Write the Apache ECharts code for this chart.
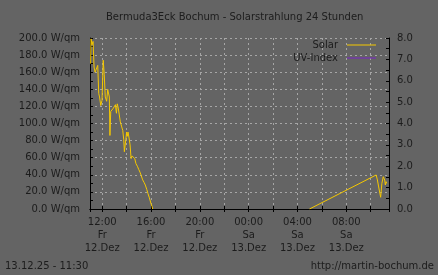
<!DOCTYPE html>
<html>
<head>
<meta charset="utf-8">
<script src="https://cdn.jsdelivr.net/npm/echarts@6/dist/echarts.min.js"></script>
<style>
html,body{margin:0;padding:0;background:#646464;}
#c{width:438px;height:275px;}
</style>
</head>
<body>
<div id="c"></div>
<script>
// ---- data ----
const chartTitle = 'Bermuda3Eck Bochum - Solarstrahlung 24 Stunden';
const footerLeft = '13.12.25 - 11:30';
const footerRight = 'http://martin-bochum.de';
const xStart = '2025-12-12 11:00';
const xEnd = '2025-12-13 11:30';
const dayNames = ['So', 'Mo', 'Di', 'Mi', 'Do', 'Fr', 'Sa'];
const monthNames = ['Jan', 'Feb', 'Mär', 'Apr', 'Mai', 'Jun', 'Jul', 'Aug', 'Sep', 'Okt', 'Nov', 'Dez'];

const solarTimes = [
  '2025-12-12 11:03', '2025-12-12 11:05', '2025-12-12 11:10', '2025-12-12 11:15', '2025-12-12 11:20',
  '2025-12-12 11:25', '2025-12-12 11:32', '2025-12-12 11:38', '2025-12-12 11:43', '2025-12-12 11:47',
  '2025-12-12 11:53', '2025-12-12 11:59', '2025-12-12 12:05', '2025-12-12 12:10', '2025-12-12 12:15',
  '2025-12-12 12:22', '2025-12-12 12:27', '2025-12-12 12:32', '2025-12-12 12:35', '2025-12-12 12:38',
  '2025-12-12 12:42', '2025-12-12 12:48', '2025-12-12 12:55', '2025-12-12 13:00', '2025-12-12 13:05',
  '2025-12-12 13:10', '2025-12-12 13:14', '2025-12-12 13:19', '2025-12-12 13:24', '2025-12-12 13:29',
  '2025-12-12 13:36', '2025-12-12 13:41', '2025-12-12 13:46', '2025-12-12 13:49', '2025-12-12 13:52',
  '2025-12-12 13:56', '2025-12-12 14:00', '2025-12-12 14:03', '2025-12-12 14:07', '2025-12-12 14:12',
  '2025-12-12 14:17', '2025-12-12 14:22', '2025-12-12 14:27', '2025-12-12 14:33', '2025-12-12 14:40',
  '2025-12-12 14:46', '2025-12-12 14:53', '2025-12-12 15:00', '2025-12-12 15:06', '2025-12-12 15:12',
  '2025-12-12 15:19', '2025-12-12 15:26', '2025-12-12 15:32', '2025-12-12 15:39', '2025-12-12 15:45',
  '2025-12-12 15:52', '2025-12-12 15:59', '2025-12-12 16:05', '2025-12-12 16:08', '2025-12-12 16:10',
  '2025-12-13 04:59', '2025-12-13 10:27', '2025-12-13 10:33', '2025-12-13 10:42', '2025-12-13 10:49',
  '2025-12-13 10:55', '2025-12-13 11:02', '2025-12-13 11:09', '2025-12-13 11:12', '2025-12-13 11:16',
  '2025-12-13 11:19'
];
const solarValues = [
  170, 199, 192, 196, 166,
  160, 158, 168, 135, 131,
  121, 127, 174, 157, 131,
  126, 140, 139, 131, 86,
  114, 113, 118, 116, 122,
  112, 123, 118, 110, 102,
  96, 92, 81, 67, 65,
  81, 90, 85, 90, 83,
  75, 59, 62, 62, 59,
  53, 50, 46, 43, 39,
  34, 31, 28, 23, 18,
  13, 7, 3, 0, null,
  0, 39.8, 33.9, 22.2, 13.7,
  30, 37.8, 33.9, 28, 31.9,
  30
];
const uvTimes = [];
const uvValues = [];

const leftTicks = { min: 0, max: 200, step: 20 };
const rightTicks = { min: 0, max: 8, step: 1 };

// ---- helpers: times -> hours since 2025-12-12 00:00 (UTC-based, timezone independent) ----
const REF = Date.UTC(2025, 11, 12, 0, 0);
const HOUR = 3600 * 1000;
function toHours(s) {
  const m = s.match(/(\d+)-(\d+)-(\d+) (\d+):(\d+)/);
  return (Date.UTC(+m[1], +m[2] - 1, +m[3], +m[4], +m[5]) - REF) / HOUR;
}
function hoursToLabel(h) {
  const d = new Date(REF + h * HOUR);
  const hh = String(d.getUTCHours()).padStart(2, '0');
  const mm = String(d.getUTCMinutes()).padStart(2, '0');
  return hh + ':' + mm + '\n' + dayNames[d.getUTCDay()] + '\n' + d.getUTCDate() + '.' + monthNames[d.getUTCMonth()];
}

// ---- chart ----
const FONT = 'DejaVu Sans';
const TXT = '#1c1c1c';
const GRID = '#a6a6a6';
const solarData = solarTimes.map((t, i) => [toHours(t), solarValues[i]]);
const uvData = uvTimes.map((t, i) => [toHours(t), uvValues[i]]);

const chart = echarts.init(document.getElementById('c'), null, { renderer: 'canvas' });
const xBase = {
  type: 'value',
  min: toHours(xStart),
  max: toHours(xEnd),
  splitNumber: 12
};
chart.setOption({
  backgroundColor: '#646464',
  animation: false,
  textStyle: { fontFamily: FONT },
  title: [
    { text: chartTitle, left: 106, top: 12, padding: 0,
      textStyle: { fontFamily: FONT, fontSize: 10, fontWeight: 'normal', color: TXT } },
    { text: footerLeft, left: 5, top: 261, padding: 0,
      textStyle: { fontFamily: FONT, fontSize: 10, fontWeight: 'normal', color: TXT } },
    { text: footerRight, right: 4, top: 261, padding: 0,
      textStyle: { fontFamily: FONT, fontSize: 10, fontWeight: 'normal', color: TXT } }
  ],
  legend: [
    { data: ['Solar'], right: 62, top: 40, padding: 0, align: 'right', orient: 'vertical',
      itemWidth: 29, itemHeight: 1, icon: 'rect',
      textStyle: { fontFamily: FONT, fontSize: 10, color: TXT, padding: [0, 4, 0, 0] } },
    { data: ['UV-Index'], right: 62, top: 53, padding: 0, align: 'right', orient: 'vertical',
      itemWidth: 29, itemHeight: 1, icon: 'rect',
      textStyle: { fontFamily: FONT, fontSize: 10, color: TXT, padding: [0, 4, 0, 0] } }
  ],
  grid: { left: 90, right: 49, top: 38, bottom: 66, containLabel: false },
  xAxis: [
    Object.assign({}, xBase, {
      position: 'bottom',
      axisLine: { show: true, lineStyle: { color: '#000', width: 1 } },
      axisTick: { show: true, inside: true, length: 3, lineStyle: { color: '#000' } },
      splitLine: { show: true, lineStyle: { color: GRID, type: [2, 3], width: 1 } },
      axisLabel: {
        show: true, margin: 7, color: TXT, fontFamily: FONT, fontSize: 10, lineHeight: 13,
        hideOverlap: false, showMinLabel: true, showMaxLabel: true,
        formatter: function (v) {
          if (Math.abs(v - Math.round(v)) > 1e-6 || Math.round(v) % 4 !== 0) return '';
          return hoursToLabel(v);
        }
      }
    }),
    Object.assign({}, xBase, {
      position: 'top',
      axisLine: { show: true, lineStyle: { color: '#000', width: 1 } },
      axisTick: { show: true, inside: true, length: 3, lineStyle: { color: '#000' } },
      splitLine: { show: false },
      axisLabel: { show: false }
    })
  ],
  yAxis: [
    {
      type: 'value', position: 'left',
      min: leftTicks.min, max: leftTicks.max, interval: leftTicks.step,
      axisLine: { show: true, lineStyle: { color: '#000', width: 1 } },
      axisTick: { show: true, inside: true, length: 3, lineStyle: { color: '#000' } },
      minorTick: { show: true, splitNumber: 2, length: 3, lineStyle: { color: '#000' } },
      splitLine: { show: true, lineStyle: { color: GRID, type: [2, 3], width: 1 } },
      axisLabel: { margin: 10, color: TXT, fontFamily: FONT, fontSize: 10,
        formatter: v => v.toFixed(1) + ' W/qm' }
    },
    {
      type: 'value', position: 'right',
      min: rightTicks.min, max: rightTicks.max, interval: rightTicks.step,
      axisLine: { show: true, lineStyle: { color: '#000', width: 1 } },
      axisTick: { show: true, inside: true, length: 3, lineStyle: { color: '#000' } },
      minorTick: { show: true, splitNumber: 2, length: 3, lineStyle: { color: '#000' } },
      splitLine: { show: false },
      axisLabel: { margin: 8, color: TXT, fontFamily: FONT, fontSize: 10,
        formatter: v => v.toFixed(1) }
    }
  ],
  series: [
    {
      name: 'Solar', type: 'line', xAxisIndex: 0, yAxisIndex: 0,
      data: solarData, showSymbol: false, symbol: 'none', connectNulls: false,
      lineStyle: { color: '#f5c800', width: 1 }, itemStyle: { color: '#f5c800' }, z: 3
    },
    {
      name: 'UV-Index', type: 'line', xAxisIndex: 0, yAxisIndex: 1,
      data: uvData, showSymbol: false, symbol: 'none',
      lineStyle: { color: '#7a22c8', width: 1 }, itemStyle: { color: '#7a22c8' }
    }
  ]
});
</script>
</body>
</html>
